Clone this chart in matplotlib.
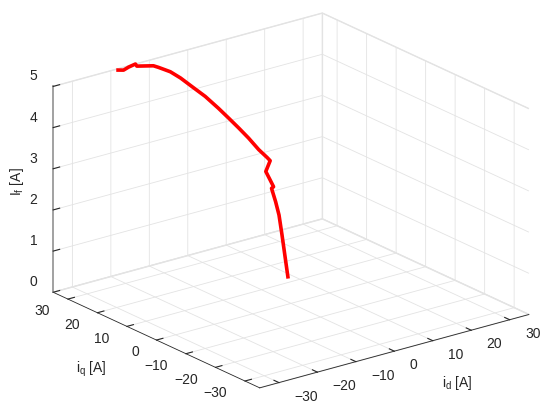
import matplotlib.pyplot as plt
import numpy as np

plt.rcParams['font.family'] = ['Liberation Sans', 'DejaVu Sans']
plt.rcParams['font.size'] = 10

# trajectory (id, iq in A, field current in A)
i_d = [-18.6, -16.7, -15.4, -13.6, -13.4, -11.0, -10.3, -8.6, -7.1, -5.5,
       -3.6, -1.7, -0.2, 1.2, 2.6, 4.1, 5.3, 5.7, 5.1, 5.7,
       6.2, 5.9, 6.5, 7.0, 7.4, 8.3]
i_q = [35.0, 35.0, 35.0, 35.0, 34.8, 32.3, 31.5, 29.7, 28.2, 26.4,
       24.4, 22.4, 20.8, 19.3, 17.8, 16.3, 15.0, 14.5, 15.2, 14.5,
       14.0, 14.3, 13.7, 13.2, 12.7, 11.8]
i_f = [4.98, 4.93, 4.97, 5.0, 4.95, 4.98, 4.95, 4.86, 4.72, 4.53,
       4.31, 4.04, 3.81, 3.59, 3.36, 3.09, 2.91, 2.84, 2.57, 2.37,
       2.21, 2.17, 1.85, 1.53, 1.05, 0.0]

dq_ticks = [-30, -20, -10, 0, 10, 20, 30]
f_ticks = [0, 1, 2, 3, 4, 5]
txt = '#262626'

W, H = 550, 410
S = 410
cx, cy = 285.5, 203
fig = plt.figure(figsize=(W / 100, H / 100), dpi=100)
ax = fig.add_axes([(cx - S / 2) / W, (cy - S / 2) / H, S / W, S / H],
                  projection='3d', proj_type='ortho')
ax.view_init(elev=20.8, azim=-127.5)
ax.set_box_aspect((1, 1, 0.649), zoom=1.25)

ax.plot(i_d, i_q, i_f, color='red', lw=2.6, solid_capstyle='butt')

ax.set_xlim(-35, 35)
ax.set_ylim(-35, 35)
ax.set_zlim(0, 5)
ax.set_xticks(dq_ticks)
ax.set_yticks(dq_ticks)
ax.set_zticks(f_ticks)

for axis in (ax.xaxis, ax.yaxis, ax.zaxis):
    axis.set_tick_params(label1On=False)
    axis.set_pane_color((1, 1, 1, 1))
    axis.pane.set_edgecolor('#e3e3e3')
    axis._axinfo['grid'].update(color='#e3e3e3', linewidth=0.6)
    axis._axinfo['tick'].update(inward_factor=0, outward_factor=0.3)
    axis.line.set_color(txt)
    axis.line.set_linewidth(0.6)
ax.zaxis.line.set_color('#9a9a9a')
ax.zaxis.line.set_linewidth(1.3)
ax.tick_params(colors=txt, width=0.6)


def lab(v):
    return str(v).replace('-', '\u2212')


# tick labels placed just outside the box edges, MATLAB style
for t in dq_ticks:
    ax.text(-35 - 4.6, t, -0.16, lab(t), ha='right', va='center', color=txt)
    ax.text(t, -35 - 5.2, -0.15, lab(t), ha='left', va='center', color=txt)
for t in f_ticks:
    ax.text(-35, 35 + 5.4, t + 0.09, lab(t), ha='right', va='center', color=txt)

fig.text(0.031, 0.556, r'$\mathregular{I_f}$ [A]', rotation=90,
         ha='center', va='center', color=txt)
fig.text(0.167, 0.098, r'$\mathregular{i_q}$ [A]', ha='center', va='center',
         color=txt)
fig.text(0.831, 0.066, r'$\mathregular{i_d}$ [A]', ha='center', va='center',
         color=txt)

fig.savefig('out.png', dpi=100)
